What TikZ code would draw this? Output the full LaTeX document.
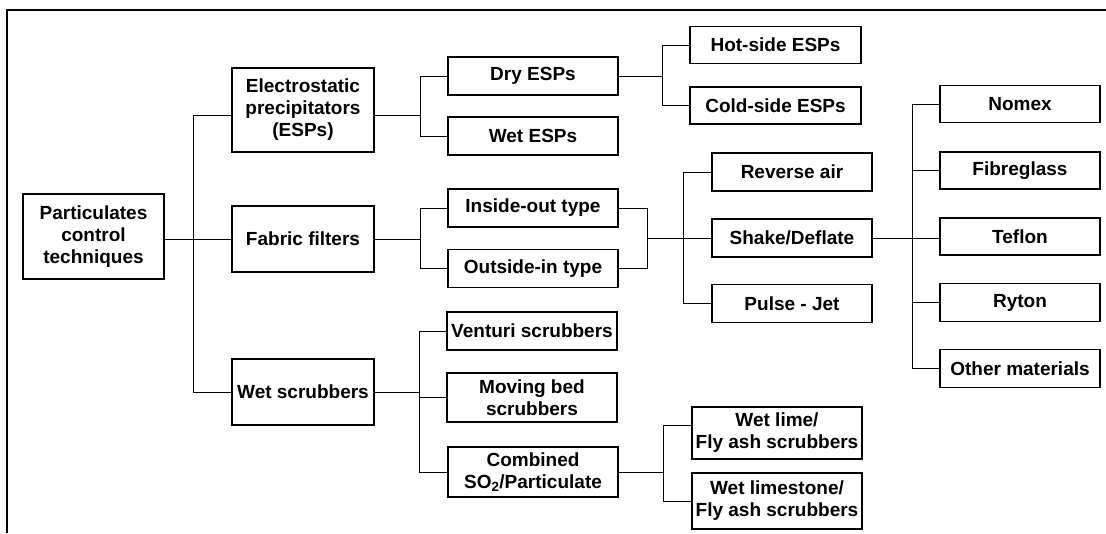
\documentclass[tikz,border=0pt]{standalone}
\usepackage{fontspec}
\setmainfont{Liberation Sans}
\begin{document}
\begin{tikzpicture}[x=1pt,y=-1pt,
  box/.style={draw=black, line width=1.1pt, inner sep=0pt, align=center,
    font=\fontsize{19}{22}\selectfont\bfseries},
  conn/.style={draw=black, line width=1pt}]
\useasboundingbox (0,0) rectangle (1106,533);
\draw[line width=2pt] (7,533) -- (7,10) -- (1106,10);
% level 0/1
\node[box, minimum width=141pt, minimum height=85pt] (root) at (93.5,236.5) {Particulates\\control\\techniques};
\node[box, minimum width=142pt, minimum height=84pt] (esp) at (303,110) {Electrostatic\\precipitators\\(ESPs)};
\node[box, minimum width=142pt, minimum height=66pt] (fab) at (303,239) {Fabric filters};
\node[box, minimum width=142pt, minimum height=66pt] (wsc) at (303,392) {Wet scrubbers};
% ESPs
\node[box, minimum width=170pt, minimum height=38pt] (dry) at (533,76) {Dry ESPs};
\node[box, minimum width=170pt, minimum height=38pt] (wetesp) at (533,136) {Wet ESPs};
\node[box, minimum width=171pt, minimum height=37pt] (hot) at (775.5,45) {Hot-side ESPs};
\node[box, minimum width=171pt, minimum height=37pt] (cold) at (775.5,105.5) {Cold-side ESPs};
% fabric filters
\node[box, minimum width=170pt, minimum height=38pt] (inout) at (533,208) {Inside-out type};
\node[box, minimum width=170pt, minimum height=38pt] (outin) at (533,268.5) {Outside-in type};
\node[box, minimum width=160pt, minimum height=38pt] (rev) at (792,172) {Reverse air};
\node[box, minimum width=160pt, minimum height=38pt] (shake) at (792,238) {Shake/Deflate};
\node[box, minimum width=160pt, minimum height=38pt] (pulse) at (792,303.5) {Pulse - Jet};
\node[box, minimum width=160pt, minimum height=37pt] (nomex) at (1020,104) {Nomex};
\node[box, minimum width=160pt, minimum height=37pt] (fibre) at (1020,170.5) {Fibreglass};
\node[box, minimum width=160pt, minimum height=37pt] (teflon) at (1020,236.5) {Teflon};
\node[box, minimum width=160pt, minimum height=38pt] (ryton) at (1020,302.5) {Ryton};
\node[box, minimum width=160pt, minimum height=38pt] (other) at (1020,368.5) {Other materials};
% wet scrubbers
\node[box, minimum width=170pt, minimum height=38pt] (venturi) at (532,331) {Venturi scrubbers};
\node[box, minimum width=170pt, minimum height=49pt] (moving) at (532,397.5) {Moving bed\\scrubbers};
\node[box, minimum width=170pt, minimum height=50pt] (comb) at (533,472) {Combined\\SO\textsubscript{2}/Particulate};
\node[box, minimum width=170pt, minimum height=52pt] (wlime) at (777,433) {Wet lime/\\Fly ash scrubbers};
\node[box, minimum width=170pt, minimum height=56pt] (wlstone) at (777,501) {Wet limestone/\\Fly ash scrubbers};
% fork coordinates
\coordinate (f1) at (193,0);
\coordinate (f2) at (420,0);
\coordinate (f3) at (662,0);
\coordinate (m1) at (647,0);
\coordinate (f4) at (683,0);
\coordinate (f5) at (912,0);
\coordinate (f6) at (419,0);
\coordinate (f7) at (663,0);
% connectors
\draw[conn] (root.east |- fab.west) -- (fab.west);
\draw[conn] ([yshift=-5pt]esp.west) -- ([yshift=-5pt]esp.west -| f1) |- (wsc.west);
\draw[conn] ([yshift=-5pt]esp.east) -- ([yshift=-5pt]esp.east -| f2);
\draw[conn] (dry.west) -- (dry.west -| f2) |- (wetesp.west);
\draw[conn] (dry.east) -- (dry.east -| f3);
\draw[conn] (hot.west) -- (hot.west -| f3) |- (cold.west);
\draw[conn] (fab.east) -- (fab.east -| f2);
\draw[conn] (inout.west) -- (inout.west -| f2) |- (outin.west);
\draw[conn] (inout.east) -- (inout.east -| m1) |- (outin.east);
\draw[conn] (shake.west -| m1) -- (shake.west);
\draw[conn] (rev.west) -- (rev.west -| f4) |- (pulse.west);
\draw[conn] (shake.east) -- (shake.east -| teflon.west);
\draw[conn] (nomex.west) -- (nomex.west -| f5) |- (other.west);
\draw[conn] (fibre.west) -- (fibre.west -| f5);
\draw[conn] (ryton.west) -- (ryton.west -| f5);
\draw[conn] (wsc.east) -- (wsc.east -| f6);
\draw[conn] (venturi.west) -- (venturi.west -| f6) |- (comb.west);
\draw[conn] (moving.west -| f6) -- (moving.west);
\draw[conn] (comb.east) -- (comb.east -| f7);
\draw[conn] ([yshift=8pt]wlime.west) -- ([yshift=8pt]wlime.west -| f7) |- (wlstone.west);
\end{tikzpicture}
\end{document}
